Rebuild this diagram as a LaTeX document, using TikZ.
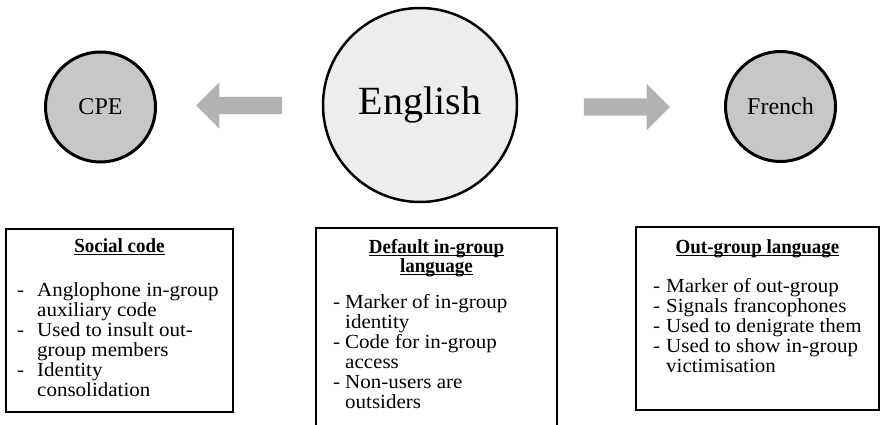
\documentclass[tikz,border=0pt]{standalone}
\usepackage{fontspec}
\setmainfont{Liberation Serif}
\newfontfamily\listfont[FakeStretch=1.05]{Liberation Serif}
\newfontfamily\headfont[FakeStretch=0.95]{Liberation Serif}
\usetikzlibrary{shapes.arrows}
\newcommand{\undl}[1]{\setbox0\hbox{#1}\rlap{\rule[-2.6pt]{\wd0}{1.1pt}}\box0}

\begin{document}
\begin{tikzpicture}[x=1pt, y=-1pt,
                    lang/.style={circle, draw, line width=3pt, minimum size=110pt, inner sep=0pt,
                                 fill=black!22, font=\fontsize{24}{28}\selectfont},
                    core/.style={lang, line width=2.5pt, minimum size=194pt, fill=black!7,
                                 font=\fontsize{40}{48}\selectfont},
                    flow/.style={single arrow, fill=black!30, draw=none, inner xsep=0pt, inner ysep=8.5pt,
                                 single arrow head extend=14.5pt, single arrow tip angle=90, minimum height=86pt},
                    panel/.style={line width=1.4pt},
                    head/.style={anchor=base, inner sep=0pt, font=\headfont\bfseries\fontsize{20}{19}\selectfont},
                    items/.style={anchor=base west, inner sep=0pt, font=\listfont\fontsize{20}{20}\selectfont}]
  \useasboundingbox (0,0) rectangle (880,425);
  % languages
  \node[lang] (cpe) at (100.5,107) {CPE};
  \node[core] (eng) at (420,105) {English};
  \node[lang] (fr) at (780.5,106.5) {French};
  \node[flow, shape border rotate=180] (tocpe) at (243.5,105.5) {};
  \node[flow] (tofr) at (622.5,107) {};
  % panels
  \draw[panel] (6,229) rectangle (233,412);
  \draw[panel] (316,426) -- (316,228) -- (557,228) -- (557,426);
  \draw[panel] (636,227) rectangle (879,410);
  \node[head] (cpehead) at (119.5,252) {\undl{Social code}};
  \node[head] (enghead) at (436.5,253) {\begin{tabular}[t]{@{}c@{}}\undl{Default in-group}\\ \undl{language}\end{tabular}};
  \node[head] (frhead) at (757.5,253) {\undl{Out-group language}};
  \node[items] (cpeitems) at (17,296) {\begin{tabular}[t]{@{}p{20pt}@{}l@{}}
    - & Anglophone in-group\\ & auxiliary code\\
    - & Used to insult out-\\ & group members\\
    - & Identity\\ & consolidation\end{tabular}};
  \node[items] (engitems) at (333,308) {\begin{tabular}[t]{@{}p{12pt}@{}l@{}}
    - & Marker of in-group\\ & identity\\
    - & Code for in-group\\ & access\\
    - & Non-users are\\ & outsiders\end{tabular}};
  \node[items] (fritems) at (653,292) {\begin{tabular}[t]{@{}p{13pt}@{}l@{}}
    - & Marker of out-group\\
    - & Signals francophones\\
    - & Used to denigrate them\\
    - & Used to show in-group\\ & victimisation\end{tabular}};
\end{tikzpicture}
\end{document}
